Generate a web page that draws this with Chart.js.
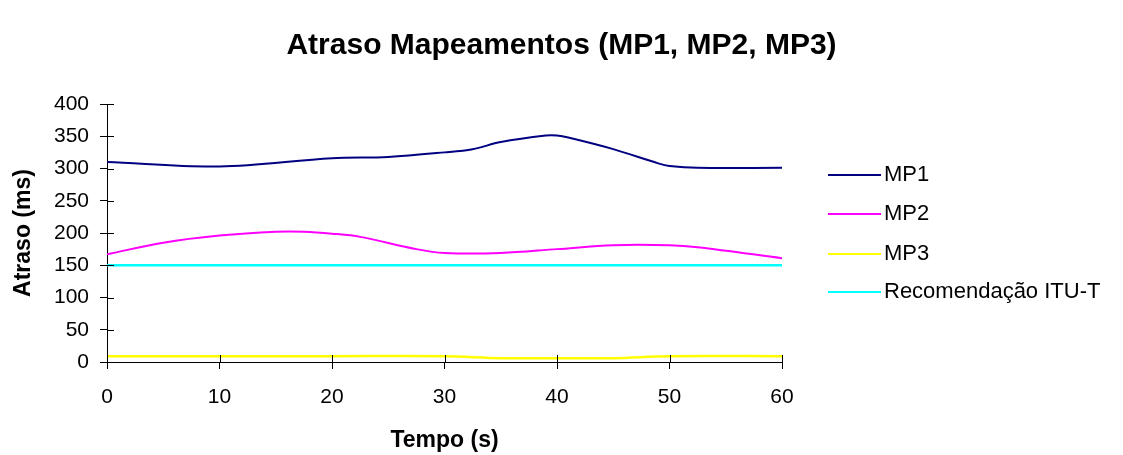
<!DOCTYPE html>
<html>
<head>
<meta charset="utf-8">
<script src="https://cdn.jsdelivr.net/npm/chart.js@4"></script>
<style>
  html, body { margin: 0; padding: 0; background: #fff; }
  #wrap { width: 1123px; height: 455px; }
</style>
</head>
<body>
<div id="wrap"><canvas id="chart" width="1123" height="455"></canvas></div>
<script>
const FONT = "'Liberation Sans', Arial, sans-serif";

const seriesNames = ["MP1", "MP2", "MP3", "Recomendação ITU-T"];
const seriesColors = ["#000080", "#FF00FF", "#FFFF00", "#00FFFF"];

const mp1Times = [0, 10, 20, 25, 30, 32.5, 35, 39, 40, 41, 45, 49, 50, 52.5, 60];
const mp1Values = [310, 303, 316, 318, 325, 330, 341, 351, 351, 348, 330, 308, 304, 301, 301];

const mp2Times = [0, 5, 10, 15, 17.5, 20, 22.5, 27.5, 30, 35, 40, 45, 50, 52.5, 60];
const mp2Values = [167, 185, 196, 202, 202, 199, 194, 175, 169, 169, 175, 181, 181, 178, 161];

const mp3Times = [0, 10, 20, 30, 35, 40, 45, 50, 60];
const mp3Values = [9, 9, 9, 9, 6, 6, 6, 9, 9];

const ituTimes = [0, 60];
const ituValues = [150, 150];

const yTicks = [0, 50, 100, 150, 200, 250, 300, 350, 400];
const xTicks = [0, 10, 20, 30, 40, 50, 60];

function toPoints(times, values) {
    return times.map((t, i) => ({ x: t, y: values[i] }));
}

const allTimes = [mp1Times, mp2Times, mp3Times, ituTimes];
const allValues = [mp1Values, mp2Values, mp3Values, ituValues];

const datasets = seriesNames.map((name, i) => ({
    label: name,
    data: toPoints(allTimes[i], allValues[i]),
    borderColor: seriesColors[i],
    backgroundColor: seriesColors[i],
    borderWidth: i >= 2 ? 2.5 : 2,
    pointRadius: 0,
    tension: 0.35,
    fill: false
}));

// small tick stubs inside the plot so ticks cross the axis lines
const crossTicks = {
    id: "crossTicks",
    afterDraw(chart) {
        const ctx = chart.ctx;
        const x = chart.scales.x;
        const y = chart.scales.y;
        ctx.save();
        ctx.strokeStyle = "#000";
        ctx.lineWidth = 1;
        ctx.beginPath();
        yTicks.forEach(v => {
            const py = Math.round(y.getPixelForValue(v)) + 0.5;
            ctx.moveTo(x.left, py);
            ctx.lineTo(x.left + 7, py);
        });
        xTicks.forEach(v => {
            const px = Math.round(x.getPixelForValue(v)) + 0.5;
            ctx.moveTo(px, y.bottom);
            ctx.lineTo(px, y.bottom - 7);
        });
        ctx.stroke();
        ctx.restore();
    }
};

const sideLegend = {
    id: "sideLegend",
    afterDraw(chart) {
        const ctx = chart.ctx;
        const rows = [175, 214, 254, 292];
        ctx.save();
        ctx.font = "22px " + FONT;
        ctx.textBaseline = "middle";
        ctx.fillStyle = "#000";
        chart.data.datasets.forEach((ds, i) => {
            ctx.strokeStyle = ds.borderColor;
            ctx.lineWidth = 2;
            ctx.beginPath();
            ctx.moveTo(828, rows[i]);
            ctx.lineTo(881, rows[i]);
            ctx.stroke();
            ctx.fillText(ds.label, 884, rows[i]);
        });
        ctx.restore();
    }
};

new Chart(document.getElementById("chart"), {
    type: "line",
    data: { datasets: datasets },
    plugins: [crossTicks, sideLegend],
    options: {
        responsive: false,
        animation: false,
        layout: {
            padding: 0
        },
        plugins: {
            legend: { display: false },
            tooltip: { enabled: false },
            title: {
                display: true,
                text: "Atraso Mapeamentos (MP1, MP2, MP3)",
                color: "#000",
                font: { family: FONT, size: 30, weight: "bold" },
                padding: { top: 28, bottom: 40 }
            }
        },
        scales: {
            x: {
                type: "linear",
                min: 0,
                max: 60,
                afterBuildTicks: s => { s.ticks = xTicks.map(v => ({ value: v })); },
                afterFit: s => { s.height = 93; },
                ticks: {
                    color: "#000",
                    font: { family: FONT, size: 21 },
                    padding: 16,
                    maxRotation: 0
                },
                grid: {
                    drawOnChartArea: false,
                    drawTicks: true,
                    tickLength: 7,
                    color: "#000"
                },
                border: { color: "#000", width: 1 },
                title: {
                    display: true,
                    text: "Tempo (s)",
                    color: "#000",
                    font: { family: FONT, size: 23, weight: "bold" },
                    padding: { top: 0, bottom: 1 }
                }
            },
            y: {
                min: 0,
                max: 400,
                afterBuildTicks: s => { s.ticks = yTicks.map(v => ({ value: v })); },
                afterFit: s => { s.width = 107; },
                ticks: {
                    color: "#000",
                    font: { family: FONT, size: 21 },
                    padding: 11
                },
                grid: {
                    drawOnChartArea: false,
                    drawTicks: true,
                    tickLength: 7,
                    color: "#000"
                },
                border: { color: "#000", width: 1 },
                title: {
                    display: true,
                    text: "Atraso (ms)",
                    color: "#000",
                    font: { family: FONT, size: 23, weight: "bold" },
                    padding: { top: 10, bottom: 0 }
                }
            },
            // empty right-hand strip that keeps the legend area free of the plot
            legendSpace: {
                type: "linear",
                position: "right",
                display: true,
                afterFit: s => { s.width = 341; },
                ticks: { display: false },
                grid: { display: false, drawTicks: false },
                border: { display: false }
            }
        }
    }
});
</script>
</body>
</html>
